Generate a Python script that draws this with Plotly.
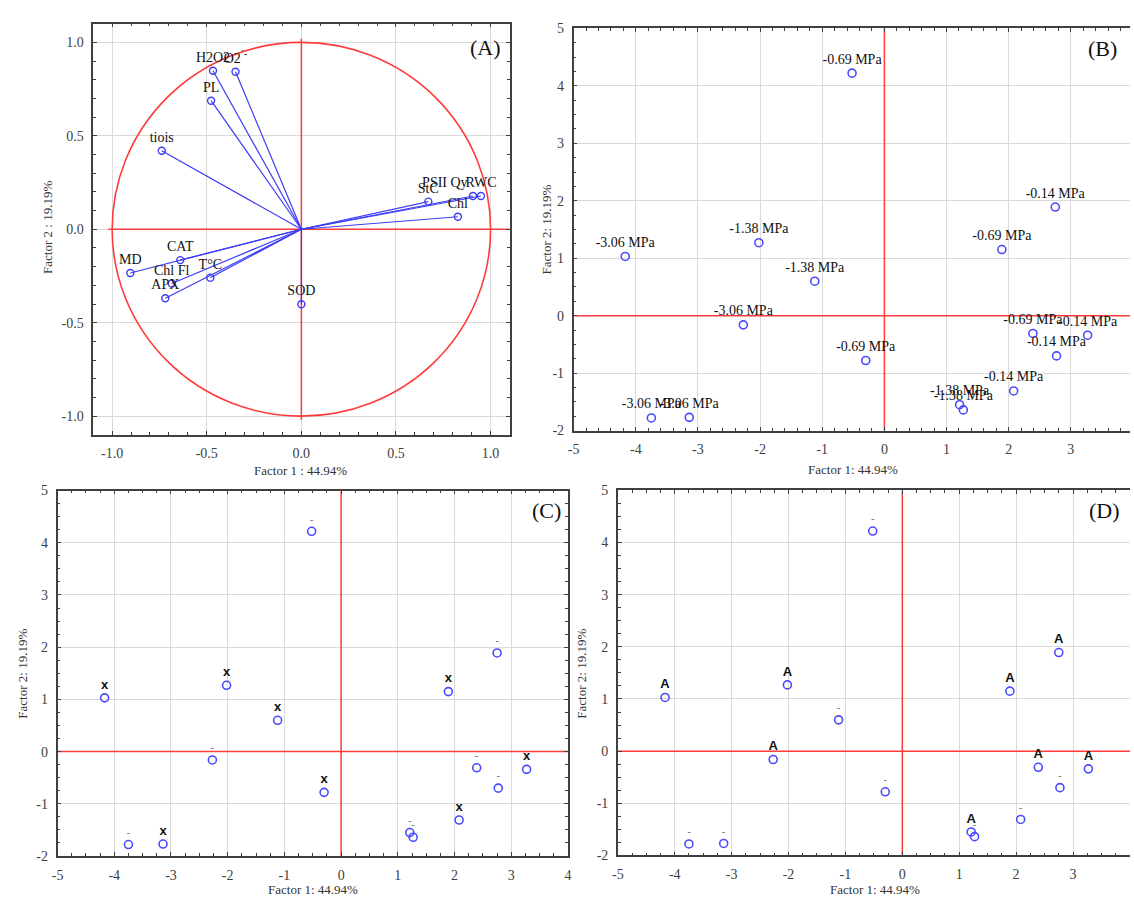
import plotly.graph_objects as go

# ---------------- Data ----------------
# Panel A: variable loadings on Factor 1 / Factor 2
var_names = ["H2O2", "O2<sup>˙-</sup>", "PL", "tiois", "StC", "PSII Qy", "RWC", "Chl",
             "MD", "CAT", "Chl Fl", "T°C", "APX", "SOD"]
load_f1 = [-0.467, -0.348, -0.477, -0.738, 0.671, 0.907, 0.949, 0.827,
           -0.904, -0.640, -0.685, -0.481, -0.719, 0.000]
load_f2 = [0.848, 0.843, 0.688, 0.420, 0.148, 0.178, 0.178, 0.067,
           -0.234, -0.165, -0.290, -0.259, -0.369, -0.401]

# Panels B-D: case scores
score_f1 = [-0.52, 2.75, -4.17, -2.02, -1.12, 1.89, -2.27, -0.30,
            2.39, 3.27, 2.77, 2.08, 1.21, 1.27, -3.75, -3.14]
score_f2 = [4.22, 1.89, 1.03, 1.27, 0.60, 1.15, -0.16, -0.78,
            -0.31, -0.34, -0.70, -1.31, -1.55, -1.64, -1.78, -1.77]
psi_labels = ["-0.69 MPa", "-0.14 MPa", "-3.06 MPa", "-1.38 MPa", "-1.38 MPa", "-0.69 MPa",
              "-3.06 MPa", "-0.69 MPa", "-0.69 MPa", "-0.14 MPa", "-0.14 MPa", "-0.14 MPa",
              "-1.38 MPa", "-1.38 MPa", "-3.06 MPa", "-3.06 MPa"]
c_labels = ["-", "-", "x", "x", "x", "x", "-", "x", "-", "x", "-", "x", "-", "-", "-", "x"]
d_labels = ["-", "A", "A", "A", "-", "A", "A", "-", "A", "A", "-", "-", "A", "-", "-", "-"]

a_ticks = [-1.0, -0.5, 0.0, 0.5, 1.0]
a_ticktext = ["-1.0", "-0.5", "0.0", "0.5", "1.0"]
s_xticks = [-5, -4, -3, -2, -1, 0, 1, 2, 3, 4]
d_xticks = [-5, -4, -3, -2, -1, 0, 1, 2, 3]
s_yticks = [-2, -1, 0, 1, 2, 3, 4, 5]

x_title_a = "Factor 1 : 44.94%"
y_title_a = "Factor 2 : 19.19%"
x_title = "Factor 1: 44.94%"
y_title = "Factor 2: 19.19%"

# ---------------- Styling ----------------
W, H = 1134, 908
SERIF = "Liberation Serif, Times New Roman, serif"
SANS = "Liberation Sans, Arial, sans-serif"
BLUE = "#4a4aff"
LINEBLUE = "#3c3cf5"
RED = "#ff3b3b"
AXC = "#404040"
GRID = "#dadada"


def px(x):
    return x / W


def py(y):
    return 1 - y / H


fig = go.Figure()

# Panel A vectors
vx, vy = [], []
for a, b in zip(load_f1, load_f2):
    vx += [0, a, None]
    vy += [0, b, None]
fig.add_trace(go.Scatter(x=vx, y=vy, mode="lines", line=dict(color=LINEBLUE, width=1.2),
                         xaxis="x", yaxis="y", hoverinfo="skip", showlegend=False))
tpos_a = ["top left" if n == "PSII Qy" else "top center" for n in var_names]
fig.add_trace(go.Scatter(x=load_f1, y=load_f2, mode="markers+text", text=var_names,
                         textposition=tpos_a,
                         textfont=dict(family=SERIF, size=14, color="#111111"),
                         marker=dict(symbol="circle-open", size=7, color=LINEBLUE,
                                     line=dict(width=1.4, color=LINEBLUE)),
                         xaxis="x", yaxis="y", showlegend=False))

# Panel B
fig.add_trace(go.Scatter(x=score_f1, y=score_f2, mode="markers+text", text=psi_labels,
                         textposition="top center",
                         textfont=dict(family=SERIF, size=14, color="#111111"),
                         marker=dict(symbol="circle-open", size=8, color=BLUE,
                                     line=dict(width=1.6, color=BLUE)),
                         xaxis="x2", yaxis="y2", showlegend=False))


def sym_font(labels):
    sizes = [13 if t != "-" else 11 for t in labels]
    cols = ["#111111" if t != "-" else "#777777" for t in labels]
    return dict(family=SANS, size=sizes, color=cols)


fig.add_trace(go.Scatter(x=score_f1, y=score_f2, mode="markers+text",
                         text=["<b>%s</b>" % t if t != "-" else t for t in c_labels],
                         textposition="top center", textfont=sym_font(c_labels),
                         marker=dict(symbol="circle-open", size=8, color=BLUE,
                                     line=dict(width=1.6, color=BLUE)),
                         xaxis="x3", yaxis="y3", showlegend=False))
fig.add_trace(go.Scatter(x=score_f1, y=score_f2, mode="markers+text",
                         text=["<b>%s</b>" % t if t != "-" else t for t in d_labels],
                         textposition="top center", textfont=sym_font(d_labels),
                         marker=dict(symbol="circle-open", size=8, color=BLUE,
                                     line=dict(width=1.6, color=BLUE)),
                         xaxis="x4", yaxis="y4", showlegend=False))

tickfont = dict(family=SERIF, size=14, color=AXC)


def axis(domain, rng, tickvals, ticktext, anchor, minor_dt, mirror=True):
    return dict(domain=domain, range=rng, anchor=anchor, tickvals=tickvals, ticktext=ticktext,
                showgrid=True, gridcolor=GRID, gridwidth=1, zeroline=False,
                showline=True, linecolor=AXC, linewidth=1.5,
                mirror="ticks" if mirror else False,
                ticks="inside", ticklen=4, tickcolor=AXC, tickwidth=1,
                minor=dict(dtick=minor_dt, ticks="inside", ticklen=3, tickcolor=AXC,
                           showgrid=False),
                tickfont=tickfont, ticklabelstandoff=5, fixedrange=True)


# Domains from pixel boxes
A_x = [px(88), px(508)]; A_y = [py(435), py(17)]
B_x = [px(572.7), 1.0]; B_y = [py(430.7), py(21.7)]
C_x = [px(52), px(567)]; C_y = [py(863.3), py(491.7)]
D_x = [px(617.3), 1.0]; D_y = [py(862.7), py(491.5)]

a_rng = [-1.1, 1.1]
b_xrng = [-5, -5 + (W - 572.7) / 62.7]
c_xrng = [-5, 4]
d_xrng = [-5, -5 + (W - 617.3) / 57.4]
s_yrng = [-2, 5]

fig.update_layout(
    width=W, height=H, margin=dict(l=0, r=0, t=0, b=0),
    paper_bgcolor="white", plot_bgcolor="white", showlegend=False,
    xaxis=axis(A_x, a_rng, a_ticks, a_ticktext, "y", 0.1),
    yaxis=axis(A_y, a_rng, a_ticks, a_ticktext, "x", 0.1),
    xaxis2=axis(B_x, b_xrng, s_xticks, [str(v) for v in s_xticks], "y2", 0.2),
    yaxis2=axis(B_y, s_yrng, s_yticks, [str(v) for v in s_yticks], "x2", 0.25, mirror=False),
    xaxis3=axis(C_x, c_xrng, s_xticks, [str(v) for v in s_xticks], "y3", 0.25),
    yaxis3=axis(C_y, s_yrng, s_yticks, [str(v) for v in s_yticks], "x3", 0.25),
    xaxis4=axis(D_x, d_xrng, d_xticks, [str(v) for v in d_xticks], "y4", 0.25),
    yaxis4=axis(D_y, s_yrng, s_yticks, [str(v) for v in s_yticks], "x4", 0.25, mirror=False),
)

red = dict(color=RED, width=1.5)
shapes = []
# Panel A circle and axes
shapes.append(dict(type="circle", xref="x", yref="y", x0=-1, y0=-1, x1=1, y1=1,
                   line=dict(color=RED, width=1.6), layer="between"))
shapes.append(dict(type="line", xref="x", yref="y", x0=-1.02, y0=0, x1=a_rng[1], y1=0,
                   line=red, layer="between"))
shapes.append(dict(type="line", xref="x", yref="y", x0=0, y0=-1.02, x1=0, y1=1.02,
                   line=red, layer="between"))
for k, xr in [("2", b_xrng), ("3", c_xrng), ("4", d_xrng)]:
    shapes.append(dict(type="line", xref="x" + k, yref="y" + k, x0=0, x1=0,
                       y0=s_yrng[0], y1=s_yrng[1], line=red, layer="between"))
    shapes.append(dict(type="line", xref="x" + k, yref="y" + k, x0=xr[0], x1=xr[1],
                       y0=0, y1=0, line=red, layer="between"))
fig.update_layout(shapes=shapes)

ann = []
title_font = dict(family=SERIF, size=13, color="#333333")
for (t, x, y, rot) in [(x_title_a, 297, 471, 0), (y_title_a, 42, 224, -90),
                       (x_title, 855, 470, 0), (y_title, 545, 226, -90),
                       (x_title, 310, 897, 0), (y_title, 17, 678, -90),
                       (x_title, 877, 897, 0), (y_title, 581, 678, -90)]:
    ann.append(dict(text=t, x=px(x), y=py(y), xref="paper", yref="paper", showarrow=False,
                    textangle=rot, font=title_font, xanchor="center", yanchor="middle"))
for (t, x, y) in [("(A)", 484, 41), ("(B)", 1106, 42), ("(C)", 545, 512), ("(D)", 1108, 512)]:
    ann.append(dict(text=t, x=px(x), y=py(y), xref="paper", yref="paper", showarrow=False,
                    font=dict(family=SERIF, size=22, color="#111111"),
                    xanchor="center", yanchor="middle"))
fig.update_layout(annotations=ann)

fig.write_html("out.html", config={"displayModeBar": False},
               post_script="document.body.style.margin='0';document.body.style.overflow='hidden';")
